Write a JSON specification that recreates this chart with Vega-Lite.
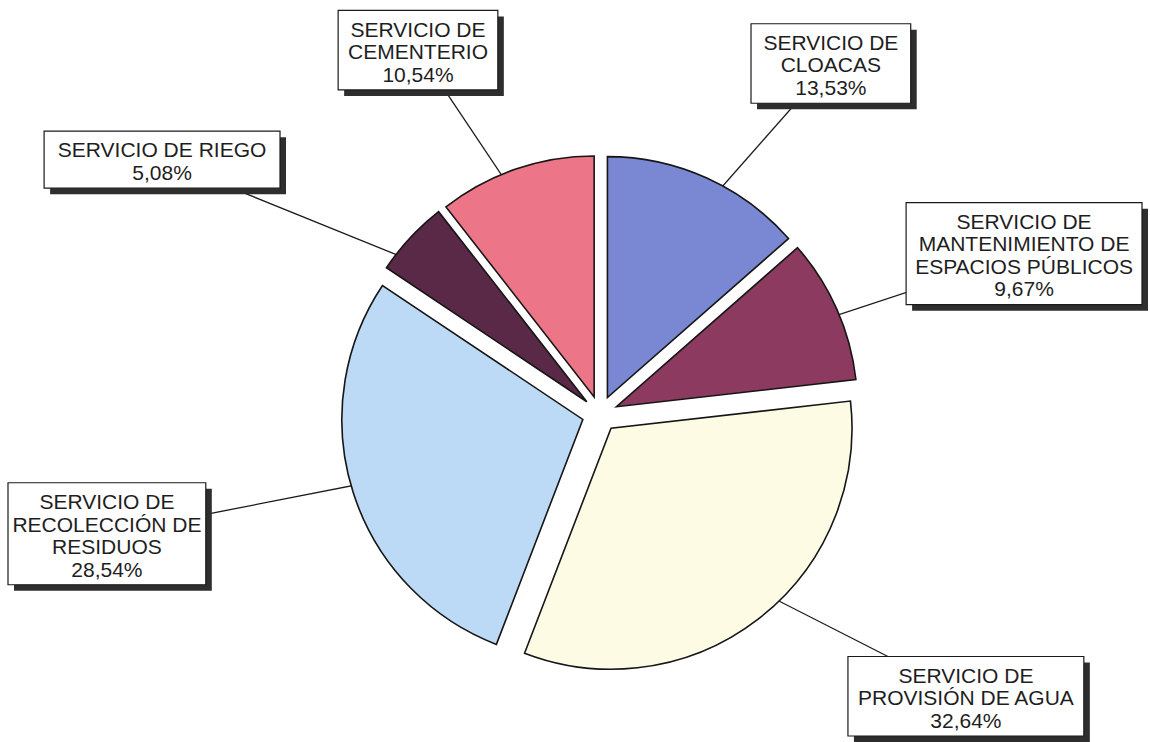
{
  "$schema": "https://vega.github.io/schema/vega-lite/v6.json",
  "width": 1150,
  "height": 742,
  "autosize": {"type": "fit", "contains": "padding"},
  "padding": 0,
  "background": "white",
  "config": {"view": {"stroke": null}},
  "data": {
    "values": [
      {"name": "SERVICIO DE\nCLOACAS", "value": 13.53},
      {"name": "SERVICIO DE\nMANTENIMIENTO DE\nESPACIOS PÚBLICOS", "value": 9.67},
      {"name": "SERVICIO DE\nPROVISIÓN DE AGUA", "value": 32.64},
      {"name": "SERVICIO DE\nRECOLECCIÓN DE\nRESIDUOS", "value": 28.54},
      {"name": "SERVICIO DE RIEGO", "value": 5.08},
      {"name": "SERVICIO DE\nCEMENTERIO", "value": 10.54}
    ]
  },
  "transform": [
    {"joinaggregate": [{"op": "sum", "field": "value", "as": "total"}]},
    {"window": [{"op": "sum", "field": "value", "as": "cum"}], "frame": [null, 0]},
    {"calculate": "(datum.cum - datum.value) / datum.total * 2 * PI", "as": "a0"},
    {"calculate": "datum.cum / datum.total * 2 * PI", "as": "a1"},
    {"calculate": "(datum.a0 + datum.a1) / 2", "as": "am"},
    {"calculate": "datum.name + '\\n' + replace(format(datum.value, '.2f'), '.', ',') + '%'", "as": "label"},
    {"calculate": "split(datum.label, '\\n')", "as": "lines"},
    {"calculate": "length(datum.lines)", "as": "nl"},
    {"calculate": "max(length(datum.lines[0] || ''), length(datum.lines[1] || ''), length(datum.lines[2] || ''), length(datum.lines[3] || ''))", "as": "ml"},
    {"calculate": "datum.ml * 12.7 + 20", "as": "bw"},
    {"calculate": "datum.nl * 22.5 + 12", "as": "bh"},
    {"calculate": "18 * sin(datum.am)", "as": "ex"},
    {"calculate": "18 * cos(datum.am)", "as": "ey"},
    {"calculate": "200 * sin(datum.am)", "as": "sx"},
    {"calculate": "200 * cos(datum.am)", "as": "sy"},
    {"calculate": "clamp(sin(datum.am) * (480 + datum.bw / 2), -600 + datum.bw / 2 + 8, 550 - datum.bw / 2 - 8)", "as": "bx"},
    {"calculate": "clamp(cos(datum.am) * (345 + datum.bh / 2), -328 + datum.bh / 2 + 6, 414 - datum.bh / 2 - 6)", "as": "by"},
    {"calculate": "datum.by + (datum.nl - 1) * 11.25 - 3", "as": "ty"},
    {"calculate": "datum.bx - datum.bw / 2", "as": "bx0"},
    {"calculate": "datum.bx + datum.bw / 2", "as": "bx1"},
    {"calculate": "datum.by - datum.bh / 2", "as": "by0"},
    {"calculate": "datum.by + datum.bh / 2", "as": "by1"}
  ],
  "layer": [
    {
      "mark": {"type": "rule", "stroke": "#1a1a1a", "strokeWidth": 1.3},
      "encoding": {
        "x": {"field": "sx", "type": "quantitative", "scale": {"domain": [-600, 550], "nice": false, "zero": false}, "axis": null},
        "y": {"field": "sy", "type": "quantitative", "scale": {"domain": [-328, 414], "nice": false, "zero": false}, "axis": null},
        "x2": {"field": "bx"},
        "y2": {"field": "by"}
      }
    },
    {
      "mark": {"type": "arc", "radius": 241, "stroke": "#161616", "strokeWidth": 1.6},
      "encoding": {
        "x": {"field": "ex", "type": "quantitative", "scale": {"domain": [-600, 550], "nice": false, "zero": false}, "axis": null},
        "y": {"field": "ey", "type": "quantitative", "scale": {"domain": [-328, 414], "nice": false, "zero": false}, "axis": null},
        "theta": {"field": "a0", "type": "quantitative", "scale": null, "stack": null},
        "theta2": {"field": "a1"},
        "color": {
          "field": "name",
          "type": "nominal",
          "legend": null,
          "scale": {
            "domain": [
              "SERVICIO DE\nCLOACAS",
              "SERVICIO DE\nMANTENIMIENTO DE\nESPACIOS PÚBLICOS",
              "SERVICIO DE\nPROVISIÓN DE AGUA",
              "SERVICIO DE\nRECOLECCIÓN DE\nRESIDUOS",
              "SERVICIO DE RIEGO",
              "SERVICIO DE\nCEMENTERIO"
            ],
            "range": ["#7a87d2", "#8c3a5f", "#fdfbe4", "#bcd9f6", "#5a2948", "#ec7688"]
          }
        }
      }
    },
    {
      "mark": {"type": "rect", "fill": "#2e2e2e", "xOffset": 6, "x2Offset": 6, "yOffset": 6, "y2Offset": 6},
      "encoding": {
        "x": {"field": "bx0", "type": "quantitative", "scale": {"domain": [-600, 550], "nice": false, "zero": false}, "axis": null},
        "x2": {"field": "bx1"},
        "y": {"field": "by0", "type": "quantitative", "scale": {"domain": [-328, 414], "nice": false, "zero": false}, "axis": null},
        "y2": {"field": "by1"}
      }
    },
    {
      "mark": {"type": "rect", "fill": "white", "stroke": "#1a1a1a", "strokeWidth": 1.2},
      "encoding": {
        "x": {"field": "bx0", "type": "quantitative", "scale": {"domain": [-600, 550], "nice": false, "zero": false}, "axis": null},
        "x2": {"field": "bx1"},
        "y": {"field": "by0", "type": "quantitative", "scale": {"domain": [-328, 414], "nice": false, "zero": false}, "axis": null},
        "y2": {"field": "by1"}
      }
    },
    {
      "mark": {"type": "text", "font": "Liberation Sans", "fontSize": 21, "lineHeight": 22.5, "lineBreak": "\n", "align": "center", "baseline": "middle", "fill": "#1e1e1e"},
      "encoding": {
        "x": {"field": "bx", "type": "quantitative", "scale": {"domain": [-600, 550], "nice": false, "zero": false}, "axis": null},
        "y": {"field": "ty", "type": "quantitative", "scale": {"domain": [-328, 414], "nice": false, "zero": false}, "axis": null},
        "text": {"field": "label"}
      }
    }
  ]
}
